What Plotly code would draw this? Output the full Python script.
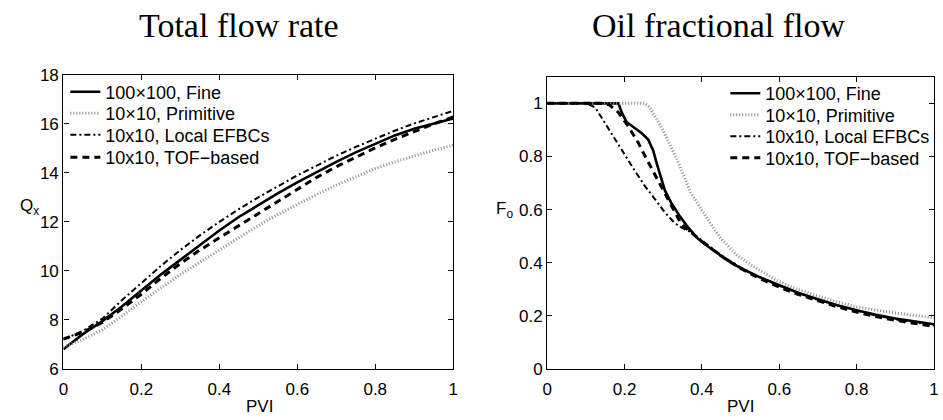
import plotly.graph_objects as go

# ---------------- Data: Total flow rate (left) ----------------
pvi_q = [0, 0.05, 0.1, 0.15, 0.2, 0.25, 0.3, 0.35, 0.4, 0.45, 0.5,
         0.55, 0.6, 0.65, 0.7, 0.75, 0.8, 0.85, 0.9, 0.95, 1.0]
q_fine = [6.8, 7.42, 7.95, 8.55, 9.2, 9.85, 10.45, 11.05, 11.65, 12.2, 12.69,
          13.16, 13.61, 14.04, 14.45, 14.84, 15.2, 15.53, 15.8, 16.02, 16.22]
q_prim = [6.9, 7.2, 7.6, 8.15, 8.75, 9.3, 9.85, 10.35, 10.85, 11.35, 11.85,
          12.3, 12.72, 13.12, 13.5, 13.85, 14.18, 14.45, 14.7, 14.93, 15.13]
q_efbc = [7.2, 7.55, 8.05, 8.8, 9.5, 10.2, 10.85, 11.45, 12.0, 12.52, 13.0,
          13.46, 13.9, 14.3, 14.7, 15.06, 15.4, 15.72, 16.02, 16.29, 16.53]
q_tof = [7.22, 7.5, 7.9, 8.45, 9.05, 9.7, 10.3, 10.85, 11.35, 11.85, 12.33,
         12.82, 13.35, 13.82, 14.25, 14.65, 15.02, 15.37, 15.7, 16.0, 16.28]

# ---------------- Data: Oil fractional flow (right) ----------------
pvi_f_fine = [0, 0.05, 0.1, 0.15, 0.184, 0.193, 0.205, 0.227, 0.244, 0.261, 0.274,
              0.282, 0.291, 0.304, 0.32, 0.342, 0.363, 0.39, 0.414, 0.44, 0.465,
              0.5, 0.55, 0.6, 0.65, 0.7, 0.75, 0.8, 0.85, 0.9, 0.95, 1.0]
f_fine = [1, 1, 1, 1, 1, 0.965, 0.93, 0.906, 0.888, 0.864, 0.823,
          0.78, 0.733, 0.673, 0.627, 0.577, 0.535, 0.49, 0.463, 0.435, 0.41,
          0.38, 0.345, 0.315, 0.286, 0.262, 0.24, 0.221, 0.204, 0.19, 0.178, 0.168]

pvi_f_prim = [0, 0.1, 0.2, 0.252, 0.265, 0.278, 0.299, 0.32, 0.338, 0.355, 0.372,
              0.39, 0.414, 0.448, 0.491, 0.534, 0.593, 0.636, 0.679, 0.72, 0.764,
              0.8, 0.849, 0.9, 0.934, 1.0]
f_prim = [1, 1, 1, 1, 0.985, 0.954, 0.9, 0.835, 0.78, 0.72, 0.661,
          0.62, 0.565, 0.493, 0.427, 0.385, 0.334, 0.305, 0.283, 0.265, 0.247,
          0.234, 0.222, 0.21, 0.204, 0.193]

pvi_f_efbc = [0, 0.05, 0.1, 0.124, 0.15, 0.176, 0.201, 0.227, 0.252, 0.278, 0.304,
              0.329, 0.35, 0.372, 0.4, 0.45, 0.5, 0.55, 0.6, 0.65, 0.7, 0.75,
              0.8, 0.85, 0.9, 0.95, 1.0]
f_efbc = [1, 1, 1, 0.985, 0.924, 0.864, 0.804, 0.745, 0.69, 0.64, 0.59,
          0.55, 0.53, 0.515, 0.485, 0.428, 0.382, 0.345, 0.313, 0.285, 0.26, 0.238,
          0.219, 0.201, 0.187, 0.175, 0.164]

pvi_f_tof = [0, 0.05, 0.1, 0.14, 0.16, 0.184, 0.21, 0.235, 0.252, 0.269, 0.286,
             0.304, 0.325, 0.346, 0.365, 0.4, 0.45, 0.5, 0.55, 0.6, 0.65, 0.7,
             0.75, 0.8, 0.85, 0.9, 0.95, 1.0]
f_tof = [1, 1, 1, 1, 0.995, 0.966, 0.912, 0.853, 0.804, 0.757, 0.709,
         0.661, 0.6, 0.547, 0.522, 0.48, 0.425, 0.378, 0.34, 0.308, 0.28, 0.256,
         0.234, 0.214, 0.197, 0.183, 0.171, 0.16]

names = ["100×100, Fine", "10×10, Primitive", "10x10, Local EFBCs", "10x10, TOF−based"]
x_ticks = [0, 0.2, 0.4, 0.6, 0.8, 1.0]
x_ticktext = ["0", "0.2", "0.4", "0.6", "0.8", "1"]
q_ticks = [6, 8, 10, 12, 14, 16, 18]
f_ticks = [0, 0.2, 0.4, 0.6, 0.8, 1.0]
f_ticktext = ["0", "0.2", "0.4", "0.6", "0.8", "1"]

styles = [
    dict(color="black", width=2.6, dash="solid"),
    dict(color="#8c8c8c", width=3, dash="1px,2px"),
    dict(color="black", width=2, dash="6px,3px,2px,3px"),
    dict(color="black", width=3, dash="7px,5px"),
]

W, H = 943, 420
fig = go.Figure()

left = [(pvi_q, q_fine), (pvi_q, q_prim), (pvi_q, q_efbc), (pvi_q, q_tof)]
right = [(pvi_f_fine, f_fine), (pvi_f_prim, f_prim), (pvi_f_efbc, f_efbc), (pvi_f_tof, f_tof)]

# one single-entry legend per trace so the rows can be spaced like the reference
left_rows = [87, 109.5, 132, 155.5]
right_rows = [88.5, 111, 133.5, 156]
legfont = dict(family="Liberation Sans, Arial, sans-serif", size=18, color="black")
legends = {}
for i, (xs, ys) in enumerate(left):
    key = "legend" if i == 0 else f"legend{i + 1}"
    fig.add_trace(go.Scatter(x=xs, y=ys, mode="lines", name=names[i], line=styles[i],
                             xaxis="x", yaxis="y", legend=key))
    legends[key] = dict(x=61 / W, y=1 - left_rows[i] / H, xanchor="left", yanchor="middle",
                        bgcolor="rgba(0,0,0,0)", borderwidth=0, font=legfont)
for i, (xs, ys) in enumerate(right):
    key = f"legend{i + 5}"
    fig.add_trace(go.Scatter(x=xs, y=ys, mode="lines", name=names[i], line=styles[i],
                             xaxis="x2", yaxis="y2", legend=key))
    legends[key] = dict(x=728 / W, y=1 - right_rows[i] / H, xanchor="left", yanchor="middle",
                        bgcolor="rgba(0,0,0,0)", borderwidth=0, font=legfont)

tickfont = dict(family="Liberation Sans, Arial, sans-serif", size=17, color="black")
axcommon = dict(showline=True, linecolor="black", linewidth=1.3, mirror="ticks",
                ticks="inside", ticklen=5, tickwidth=1, tickcolor="black",
                showgrid=False, zeroline=False, tickfont=tickfont)

fig.update_layout(
    width=W, height=H, autosize=False,
    margin=dict(l=0, r=0, t=0, b=0),
    paper_bgcolor="white", plot_bgcolor="white",
    xaxis=dict(domain=[59 / W, 453 / W], anchor="y", range=[0, 1],
               tickvals=x_ticks, ticktext=x_ticktext, ticklabelstandoff=5, **axcommon),
    yaxis=dict(domain=[1 - 377 / H, 1 - 69 / H], anchor="x", range=[6, 18],
               tickvals=q_ticks, **axcommon),
    xaxis2=dict(domain=[548 / W, 939 / W], anchor="y2", range=[0, 1],
                tickvals=x_ticks, ticktext=x_ticktext, ticklabelstandoff=5, **axcommon),
    yaxis2=dict(domain=[1 - 377 / H, 1 - 71 / H], anchor="x2", range=[0, 1.1],
                tickvals=f_ticks, ticktext=f_ticktext, **axcommon),
    showlegend=True,
    **legends,
)

serif = dict(family="Liberation Serif, Times New Roman, serif", size=34, color="black")
sans = dict(family="Liberation Sans, Arial, sans-serif", size=17, color="black")
ann = [
    dict(text="Total flow rate", x=237 / W, y=1 - 17 / H, font=serif),
    dict(text="Oil fractional flow", x=721 / W, y=1 - 17 / H, font=serif),
    dict(text="PVI", x=257 / W, y=1 - 416 / H, font=sans),
    dict(text="PVI", x=743 / W, y=1 - 416 / H, font=sans),
    dict(text="Q<sub>x</sub>", x=25 / W, y=1 - 207 / H, font=sans),
    dict(text="F<sub>o</sub>", x=505 / W, y=1 - 210 / H, font=sans),
]
fig.update_layout(annotations=[dict(xref="paper", yref="paper", showarrow=False,
                                    xanchor="center", yanchor="middle", **a) for a in ann])

fig.write_html("out.html")
